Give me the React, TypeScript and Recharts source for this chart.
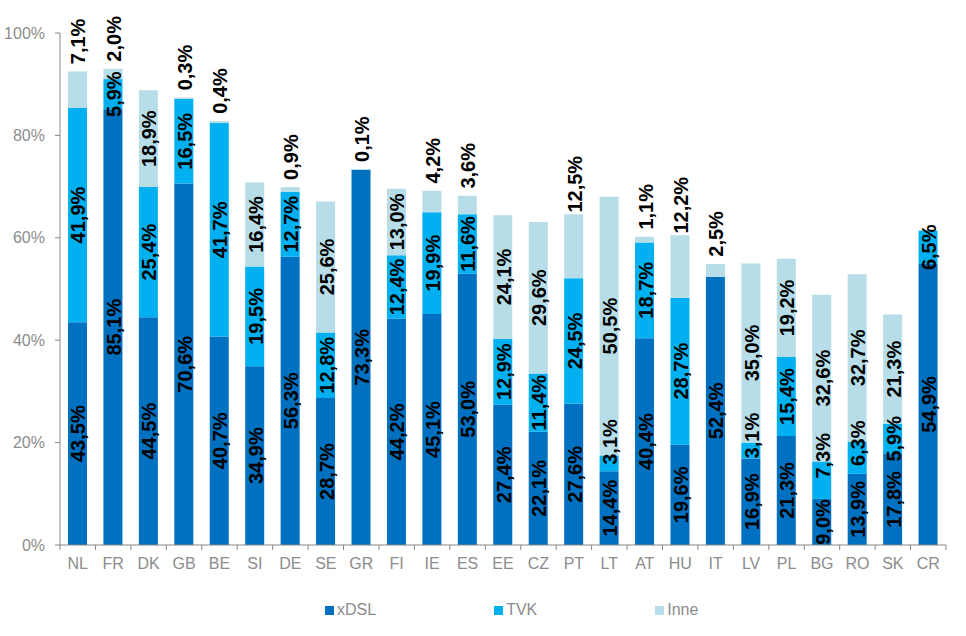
import { BarChart, Bar, XAxis, YAxis, Legend, LabelList } from "recharts";

const categories = [
  "NL", "FR", "DK", "GB", "BE", "SI", "DE", "SE", "GR", "FI", "IE", "ES", "EE",
  "CZ", "PT", "LT", "AT", "HU", "IT", "LV", "PL", "BG", "RO", "SK", "CR",
];
const xdslValues = [
  43.5, 85.1, 44.5, 70.6, 40.7, 34.9, 56.3, 28.7, 73.3, 44.2, 45.1, 53.0, 27.4,
  22.1, 27.6, 14.4, 40.4, 19.6, 52.4, 16.9, 21.3, 9.0, 13.9, 17.8, 54.9,
];
const tvkValues = [
  41.9, 5.9, 25.4, 16.5, 41.7, 19.5, 12.7, 12.8, 0, 12.4, 19.9, 11.6, 12.9,
  11.4, 24.5, 3.1, 18.7, 28.7, 0, 3.1, 15.4, 7.3, 6.3, 5.9, 6.5,
];
const inneValues = [
  7.1, 2.0, 18.9, 0.3, 0.4, 16.4, 0.9, 25.6, 0.1, 13.0, 4.2, 3.6, 24.1,
  29.6, 12.5, 50.5, 1.1, 12.2, 2.5, 35.0, 19.2, 32.6, 32.7, 21.3, 0,
];
const yTicks = [0, 20, 40, 60, 80, 100];

const series = [
  { key: "xdsl", name: "xDSL", color: "#0070C0" },
  { key: "tvk", name: "TVK", color: "#00B0F0" },
  { key: "inne", name: "Inne", color: "#B7DEE8" },
];

const data = categories.map((name, i) => ({
  name,
  xdsl: xdslValues[i],
  tvk: tvkValues[i],
  inne: inneValues[i],
}));

const W = 966;
const H = 636;
const PLOT_LEFT = 60;
const PLOT_RIGHT = 946;
const PLOT_BOTTOM = 545;
const BAND = (PLOT_RIGHT - PLOT_LEFT) / categories.length;
const FONT = "'Liberation Sans', Arial, sans-serif";
const GREY = "#8c8c8c";
const LABEL_SIZE = 20;

const fmt = (v: number) => `${v.toFixed(1).replace(".", ",")}%`;
// rough length of a bold label at LABEL_SIZE
const labelLen = (v: number) => {
  const s = fmt(v);
  return (s.length - 2) * 0.556 * LABEL_SIZE + 0.278 * LABEL_SIZE + 0.889 * LABEL_SIZE;
};

const makeLabel = (kind: string) => (props: any) => {
  const { x, y, width, height, value, index } = props;
  if (!value) return null;
  const cx = x + width / 2 + 1;
  let cy = y + height / 2;
  if (kind === "inne" && value < 13) {
    // small "Inne" values sit above the bar
    cy = y - 30;
  } else if (kind === "tvk") {
    // keep clear of the xDSL label below
    const below = xdslValues[index];
    const belowCenter = (y + height + PLOT_BOTTOM) / 2;
    const belowTop = belowCenter - labelLen(below) / 2;
    cy = Math.min(cy, belowTop - 15 - labelLen(value) / 2);
  }
  return (
    <text
      x={cx}
      y={cy}
      transform={`rotate(-90, ${cx}, ${cy})`}
      textAnchor="middle"
      dominantBaseline="central"
      fill="#000"
      fontWeight="bold"
      fontSize={LABEL_SIZE}
      fontFamily={FONT}
    >
      {fmt(value)}
    </text>
  );
};

const CategoryTick = (props: any) => {
  const { x, y, payload, index } = props;
  const axisY = y - 13;
  return (
    <g>
      <line x1={x - BAND / 2} x2={x - BAND / 2} y1={axisY} y2={axisY + 5} stroke="#868686" />
      {index === categories.length - 1 && (
        <line x1={x + BAND / 2} x2={x + BAND / 2} y1={axisY} y2={axisY + 5} stroke="#868686" />
      )}
      <text x={x} y={y} dy="0.71em" textAnchor="middle" fill={GREY} fontSize={16} fontFamily={FONT}>
        {payload.value}
      </text>
    </g>
  );
};

const LegendContent = () => (
  <div style={{ display: "flex", gap: 118, fontFamily: FONT, fontSize: 16, color: GREY }}>
    {series.map((s) => (
      <div key={s.key} style={{ display: "flex", alignItems: "center" }}>
        <span style={{ width: 9, height: 9, background: s.color, marginRight: 3 }} />
        <span>{s.name}</span>
      </div>
    ))}
  </div>
);

export default function App() {
  return (
    <div style={{ position: "absolute", left: 0, top: 0, background: "#fff" }}>
      <BarChart
        width={W}
        height={H}
        data={data}
        margin={{ top: 33, right: W - PLOT_RIGHT, left: 0, bottom: 61 }}
        barSize={19}
      >
        <XAxis
          dataKey="name"
          height={30}
          axisLine={{ stroke: "#868686" }}
          tickLine={false}
          tickSize={6}
          tickMargin={7}
          interval={0}
          tick={<CategoryTick />}
        />
        <YAxis
          width={PLOT_LEFT}
          domain={[0, 100]}
          ticks={yTicks}
          axisLine={{ stroke: "#868686" }}
          tickLine={{ stroke: "#868686" }}
          tickSize={5}
          tickMargin={10}
          tickFormatter={(v: number) => `${v}%`}
          tick={{ fill: GREY, fontSize: 16, fontFamily: FONT }}
        />
        <Legend
          verticalAlign="middle"
          layout="horizontal"
          align="center"
          content={<LegendContent />}
          wrapperStyle={{ left: 325, top: 601, width: 500, height: 20 }}
        />
        {series.map((s) => (
          <Bar key={s.key} dataKey={s.key} name={s.name} stackId="a" fill={s.color} isAnimationActive={false}>
            <LabelList dataKey={s.key} content={makeLabel(s.key)} />
          </Bar>
        ))}
      </BarChart>
    </div>
  );
}
